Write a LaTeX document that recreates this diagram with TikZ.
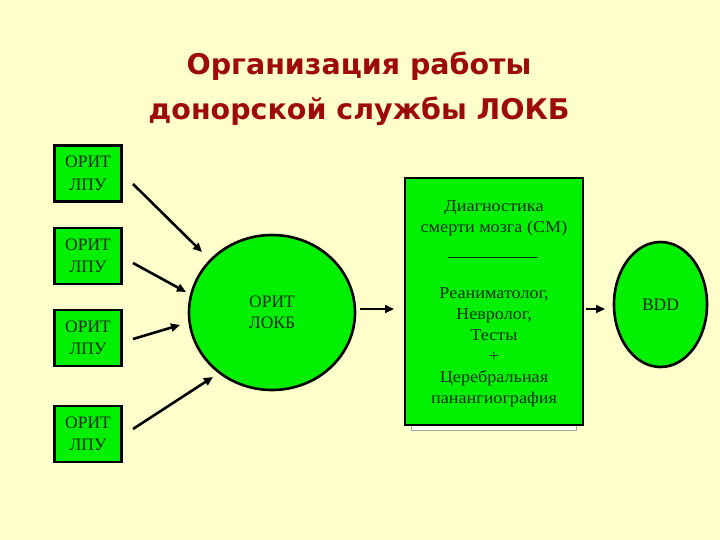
\documentclass[tikz,border=0pt]{standalone}
\usepackage{fontspec}
\setmainfont{Liberation Serif}
\newfontfamily\titlefont{DejaVu Sans}
\newfontfamily\widefont[FakeStretch=1.1]{Liberation Serif}
\usetikzlibrary{arrows.meta,shapes.geometric}
\definecolor{bgyellow}{HTML}{FFFFCC}
\definecolor{boxgreen}{HTML}{00F000}
\definecolor{titlered}{HTML}{9C0A0A}
\definecolor{txt}{HTML}{103010}
\tikzset{
  lpu/.style={draw=black, line width=2.6pt, fill=boxgreen, minimum width=67pt, minimum height=56pt,
    inner sep=0pt, align=center, font=\fontsize{17.5}{22.5}\selectfont, text=txt},
  greenoval/.style={ellipse, draw=black, line width=2.6pt, fill=boxgreen, inner sep=0pt,
    align=center, font=\fontsize{17.5}{21}\selectfont, text=txt},
  conn/.style={line width=2.6pt, -{Triangle[length=9pt,width=8pt]}},
}
\begin{document}
\begin{tikzpicture}[x=1pt,y=-1pt]
\fill[bgyellow] (0,0) rectangle (720,540);
\useasboundingbox (0,0) rectangle (720,540);
% title
\node[font=\titlefont\bfseries\fontsize{28.5}{45}\selectfont, text=titlered, align=center] (title) at (359,89)
  {Организация работы\\донорской службы ЛОКБ};
% left boxes
\node[lpu] (l1) at (88,173.5) {ОРИТ\\ЛПУ};
\node[lpu] (l2) at (88,256) {ОРИТ\\ЛПУ};
\node[lpu] (l3) at (88,338) {ОРИТ\\ЛПУ};
\node[lpu] (l4) at (88,434) {ОРИТ\\ЛПУ};
% central circle
\node[greenoval, minimum width=166pt, minimum height=155pt] (lokb) at (272,312.5) {ОРИТ\\ЛОКБ};
% diagnostic box with shadow
\node[draw=gray!70, line width=0.8pt, fill=white, minimum width=165pt, minimum height=250pt, inner sep=0pt] (shadow) at (493.5,305) {};
\node[draw=black, line width=2.6pt, fill=boxgreen, minimum width=178pt, minimum height=247pt, inner sep=0pt] (diag) at (494,301.5) {};
\node[align=center, font=\widefont\fontsize{16.5}{21}\selectfont, text=txt] (diagtop) at (494,218)
  {Диагностика\\смерти мозга (СМ)};
\coordinate (ruleA) at (448,257);
\coordinate (ruleB) at (538,257);
\draw[line width=0.8pt, txt] (ruleA) -- (ruleB);
\node[align=center, font=\widefont\fontsize{16.5}{21}\selectfont, text=txt] (diagbot) at (494,347)
  {Реаниматолог,\\Невролог,\\Тесты\\+\\Церебральная\\панангиография};
% BDD
\node[greenoval, minimum width=93pt, minimum height=125pt] (bdd) at (660.5,304.5) {BDD};
% arrow ends
\coordinate (s1) at (133,184); \coordinate (e1) at (202,252);
\coordinate (s2) at (133,263); \coordinate (e2) at (186,292);
\coordinate (s3) at (133,339); \coordinate (e3) at (180,325);
\coordinate (s4) at (133,429); \coordinate (e4) at (213,377);
\coordinate (s5) at (360,309); \coordinate (e5) at (394,309);
\coordinate (s6) at (586,309); \coordinate (e6) at (605,309);
\draw[conn] (s1) -- (e1);
\draw[conn] (s2) -- (e2);
\draw[conn] (s3) -- (e3);
\draw[conn] (s4) -- (e4);
\draw[conn] (s5) -- (e5);
\draw[conn] (s6) -- (e6);
\end{tikzpicture}
\end{document}
